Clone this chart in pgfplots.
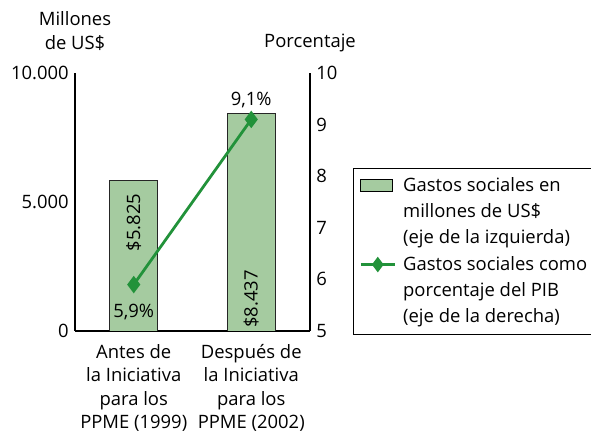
\documentclass[border=0pt]{standalone}
\usepackage{pgfplots}
\pgfplotsset{compat=1.18}
\usepackage{fontspec}
\setmainfont{Open Sans}
\definecolor{barfill}{RGB}{165,203,160}
\definecolor{linegreen}{RGB}{34,146,58}
\pgfplotsset{mylineleg/.style={legend image code/.code={\draw[mark repeat=2,mark phase=2,linegreen,line width=2.8pt,mark=diamond*,mark size=5.5pt] plot coordinates {(0bp,0bp)(17bp,0bp)(34bp,0bp)};}}}
\pgfplotsset{mybarleg/.style={legend image code/.code={\draw[fill=barfill,draw=black,line width=0.8pt] (0bp,-6bp) rectangle (32bp,6bp);}}}
\pgfplotsset{myemptyleg/.style={legend image code/.code={}}}
\begin{document}
\fontsize{18.5}{24}\selectfont
\begin{tikzpicture}[x=1bp,y=1bp]
\useasboundingbox (-75,-104) rectangle (516,331);
\pgfplotsset{every axis/.append style={scale only axis, width=235bp, height=258bp,
  xmin=-0.5, xmax=1.5, at={(0,0)}, anchor=south west,
  font=\fontsize{18.5}{24}\selectfont,
  /pgf/number format/assume math mode=true,
  tick style={draw=none}, major tick length=0pt,
  axis line style={line width=1.1pt}}}
\begin{axis}[
  axis x line*=bottom, axis y line*=left,
  ymin=0, ymax=10000, ytick={0,5000,10000}, yticklabels={0,5.000,10.000},
  scaled y ticks=false,
  xtick={0,1},
  xticklabels={{Antes de\\la Iniciativa\\para los\\PPME (1999)},{Después de\\la Iniciativa\\para los\\PPME (2002)}},
  xticklabel style={align=center, font=\fontsize{18.5}{23.5}\selectfont, yshift=-7bp},
]
\addplot[ybar, bar width=48bp, fill=barfill, draw=black!85, line width=0.8pt] coordinates {(0,5825) (1,8437)};
\node[rotate=90] at (axis cs:0,4200) {\$5.825};
\node[rotate=90] at (axis cs:1,1240) {\$8.437};
\end{axis}
\begin{axis}[
  axis y line*=right, axis x line=none,
  ymin=5, ymax=10, ytick={5,6,7,8,9,10},
  legend style={at={(1.183,-0.015)}, anchor=south west, draw=black, line width=0.8pt,
    inner xsep=6bp, inner ysep=7bp, row sep=5.5bp, column sep=5bp,
    nodes={inner ysep=2bp}},
  legend cell align=left,
]
\addlegendimage{mybarleg}
\addlegendentry{Gastos sociales en}
\addlegendimage{myemptyleg}
\addlegendentry{millones de US\$}
\addlegendimage{myemptyleg}
\addlegendentry{(eje de la izquierda)}
\addlegendimage{mylineleg}
\addlegendentry{Gastos sociales como}
\addlegendimage{myemptyleg}
\addlegendentry{porcentaje del PIB}
\addlegendimage{myemptyleg}
\addlegendentry{(eje de la derecha)}
\addplot[linegreen, line width=2.8pt, mark=diamond*, mark size=6.5pt, forget plot]
  coordinates {(0,5.9) (1,9.1)};
\node at (axis cs:1,9.48) {9,1\%};
\node at (axis cs:0,5.37) {5,9\%};
\end{axis}
\node[align=center] at (0,300) {Millones\\de US\$};
\node at (235,288) {Porcentaje};
\end{tikzpicture}
\end{document}
